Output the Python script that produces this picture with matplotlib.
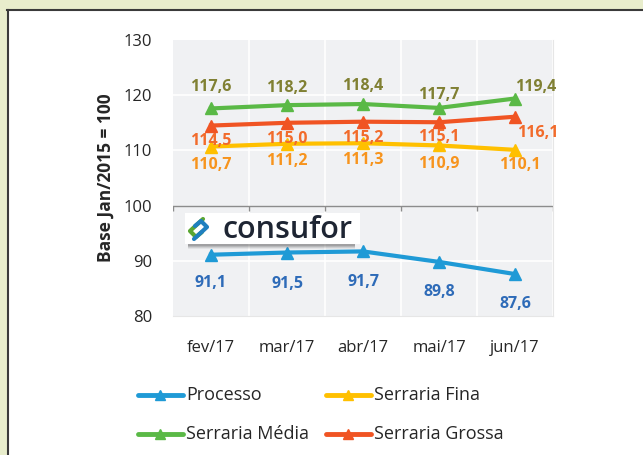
import matplotlib
matplotlib.use("Agg")
import matplotlib.pyplot as plt
from matplotlib.patches import Rectangle
from matplotlib.lines import Line2D

months = ["fev/17", "mar/17", "abr/17", "mai/17", "jun/17"]
processo = [91.1, 91.5, 91.7, 89.8, 87.6]
serraria_fina = [110.7, 111.2, 111.3, 110.9, 110.1]
serraria_media = [117.6, 118.2, 118.4, 117.7, 119.4]
serraria_grossa = [114.5, 115.0, 115.2, 115.1, 116.1]
yticks = [80, 90, 100, 110, 120, 130]

W, H = 643, 455
fig = plt.figure(figsize=(W / 100, H / 100), dpi=100)
fig.patch.set_facecolor("#e8edcc")
plt.rcParams["font.family"] = ["Open Sans", "DejaVu Sans"]


def fx(px):
    return px / W


def fy(py):
    return 1 - py / H


# white panel with dark border
fig.patches.append(Rectangle((fx(8), 0), 1 - fx(8), fy(10), transform=fig.transFigure,
                             facecolor="white", edgecolor="none", zorder=-5))
fig.lines.append(Line2D([fx(7), 1], [fy(10), fy(10)], transform=fig.transFigure,
                        color="#3a3a3a", lw=1.5, zorder=-4))
fig.lines.append(Line2D([fx(8), fx(8)], [0, fy(10)], transform=fig.transFigure,
                        color="#3a3a3a", lw=1.5, zorder=-4))

ax = fig.add_axes([fx(173), fy(316), (553 - 173) / W, (316 - 40) / H])
ax.set_zorder(1)
ax.set_facecolor("#f0f1f3")
x = list(range(len(months)))
ax.set_xlim(-0.5, len(months) - 0.5)
ax.set_ylim(80, 130)
for s in ax.spines.values():
    s.set_visible(False)
ax.spines["right"].set_visible(True)
ax.spines["right"].set_color("#e6e6e6")
ax.spines["bottom"].set_visible(True)
ax.spines["bottom"].set_color("#e6e6e6")

# grid
for yv in [90, 110, 120]:
    ax.axhline(yv, color="white", lw=1.2, zorder=1)
for xv in [0.5, 1.5, 2.5, 3.5, 4.5]:
    ax.axvline(xv, color="white", lw=1.2, zorder=1)
ax.axhline(100, color="#8c8c8c", lw=1.0, zorder=2)
ax.vlines([-0.5, 0.5, 1.5, 2.5, 3.5, 4.5], 99.1, 100, color="#8c8c8c", lw=1.0, zorder=2)

ax.set_yticks(yticks)
ax.set_yticklabels([str(v) for v in yticks], fontsize=12, color="#262626")
ax.set_xticks(x)
ax.set_xticklabels(months, fontsize=12, color="#262626")
ax.tick_params(axis="both", length=0)
ax.tick_params(axis="x", pad=17)
ax.tick_params(axis="y", pad=15)
ax.set_ylabel("Base Jan/2015 = 100", fontsize=12.5, fontweight="bold", color="#262626",
              labelpad=6)

# label offsets in pixels (dx, dy upward)
offsets = {
    "Serraria Média": [(0, 21), (0, 17), (0, 18), (0, 13), (21, 12)],
    "Serraria Grossa": [(0, -15), (0, -16), (0, -16), (0, -15), (23, -16)],
    "Serraria Fina": [(0, -18), (0, -17), (0, -17), (0, -19), (5, -15)],
    "Processo": [(0, -28), (0, -31), (0, -31), (0, -30), (0, -30)],
}
series = [
    ("Processo", processo, "#1f9ad6", "#2e6bb8"),
    ("Serraria Fina", serraria_fina, "#ffc000", "#f7941d"),
    ("Serraria Média", serraria_media, "#5ab946", "#808033"),
    ("Serraria Grossa", serraria_grossa, "#f05423", "#f26b2b"),
]
handles = {}
for name, vals, col, lcol in series:
    h, = ax.plot(x, vals, color=col, lw=3, marker="^", markersize=9, zorder=4, label=name)
    handles[name] = h
    for i, v in enumerate(vals):
        dx, dy = offsets[name][i]
        ax.annotate(f"{v:.1f}".replace(".", ","), (i, v), xytext=(dx * 0.72, dy * 0.72),
                    textcoords="offset points", ha="center", va="center",
                    fontsize=11.5, fontweight="bold", color=lcol, zorder=5,
                    annotation_clip=False)

# logo box
lx0, ly0, lx1, ly1 = 185, 213, 360, 244
for k, a in [(5, 0.08), (4, 0.12), (3, 0.16), (2, 0.2)]:
    fig.patches.append(Rectangle((fx(lx0 + 3), fy(ly1 + k)), (lx1 - lx0 - 8) / W, (ly1 - ly0) / H,
                                 transform=fig.transFigure, facecolor="#444444", alpha=a,
                                 edgecolor="none", zorder=6))
fig.patches.append(Rectangle((fx(lx0), fy(ly1)), (lx1 - lx0) / W, (ly1 - ly0) / H,
                             transform=fig.transFigure, facecolor="white", edgecolor="none",
                             zorder=7))
green_hook = [(203, 219), (190, 231), (196, 237), (202, 232)]
blue_hook = [(194, 239), (207, 227), (201, 221), (195, 226)]
for pts, c in [(green_hook, "#5aa632"), (blue_hook, "#1f7fbf")]:
    fig.lines.append(Line2D([fx(p[0]) for p in pts], [fy(p[1]) for p in pts],
                            transform=fig.transFigure, color=c, lw=3.0,
                            solid_capstyle="round", solid_joinstyle="round", zorder=8))
fig.text(fx(222), fy(230), "consufor", fontsize=22, fontweight="semibold",
         color="#1e2533", va="center", ha="left", zorder=9)

# legend
leg_items = [("Processo", 138, 395), ("Serraria Fina", 326, 395),
             ("Serraria Média", 138, 434), ("Serraria Grossa", 326, 434)]
for name, px, py in leg_items:
    col = handles[name].get_color()
    fig.lines.append(Line2D([fx(px), fx(px + 45)], [fy(py)] * 2, transform=fig.transFigure,
                            color=col, lw=3.5, solid_capstyle="round"))
    fig.lines.append(Line2D([fx(px + 22)], [fy(py)], transform=fig.transFigure,
                            color=col, marker="^", markersize=7, lw=0))
    fig.text(fx(px + 48), fy(py), name, fontsize=13, color="#262626",
             va="center", ha="left")

fig.savefig("out.png", dpi=100, facecolor=fig.get_facecolor())
